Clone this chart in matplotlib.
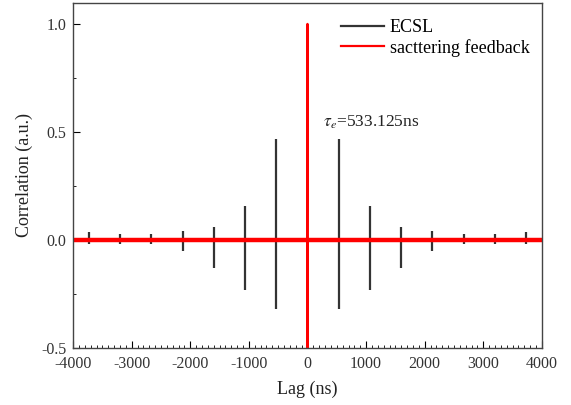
import numpy as np
import matplotlib.pyplot as plt
from matplotlib.ticker import MultipleLocator

plt.rcParams['font.family'] = ['Liberation Serif', 'DejaVu Serif']
plt.rcParams['mathtext.fontset'] = 'stix'
plt.rcParams['axes.unicode_minus'] = False

tau = 533.125
orders = [-7, -6, -5, -4, -3, -2, -1, 1, 2, 3, 4, 5, 6, 7]
ecsl_max = [0.035, 0.03, 0.03, 0.04, 0.06, 0.157, 0.468,
            0.468, 0.157, 0.06, 0.04, 0.03, 0.03, 0.035]
ecsl_min = [-0.02, -0.02, -0.02, -0.05, -0.13, -0.23, -0.32,
            -0.32, -0.23, -0.13, -0.05, -0.02, -0.02, -0.02]

# scattering feedback trace: flat near zero with a single peak at zero lag
sf_lag = [-4000, -4, 0, 0, 4, 4000]
sf_val = [0.0, 0.0, 1.0, -0.5, 0.0, 0.0]

ecsl_lag = [k * tau for k in orders]

fig = plt.figure(figsize=(5.71, 4.05), dpi=100)
ax = fig.add_axes([0.128, 0.1407, 0.821, 0.852])

ax.vlines(ecsl_lag, ecsl_min, ecsl_max, color='#333333', lw=1.6)
ax.plot([-4000, 4000], [0, 0], color='#333333', lw=1.6, label='ECSL')
ax.plot(sf_lag, sf_val, color='#ff0000', lw=1.6, label='sacttering feedback')
ax.plot([-4000, 4000], [0, 0], color='#ff0000', lw=3.2)

ax.set_xlim(-4000, 4000)
ax.set_ylim(-0.5, 1.097)
ax.xaxis.set_major_locator(MultipleLocator(1000))
ax.xaxis.set_minor_locator(MultipleLocator(100))
ax.yaxis.set_minor_locator(MultipleLocator(0.25))
ax.set_yticks([-0.5, 0.0, 0.5, 1.0])
ax.set_yticklabels(['-0.5', '0.0', '0.5', '1.0'])
ax.tick_params(which='both', direction='in', top=False, right=False, labelsize=11.5,
               labelcolor='#333333')
ax.tick_params(axis='x', which='major', pad=6)
ax.tick_params(axis='y', which='major', pad=5)
ax.tick_params(which='major', length=5)
ax.tick_params(which='minor', length=2.5)
for s in ax.spines.values():
    s.set_color('#444444')
    s.set_linewidth(1.0)

ax.set_xlabel('Lag (ns)', fontsize=13, labelpad=6, color='#222222')
ax.set_ylabel('Correlation (a.u.)', fontsize=13, labelpad=6, color='#222222')

ax.text(272, 0.525, r'$\tau_e$=533.125ns', fontsize=12.5, color='#222222')

ax.legend(loc='upper right', frameon=False, fontsize=13, handlelength=2.4,
          handletextpad=0.3, labelspacing=0.15, borderaxespad=0.4,
          bbox_to_anchor=(1.005, 0.995))

fig.savefig('out.png', dpi=100)
